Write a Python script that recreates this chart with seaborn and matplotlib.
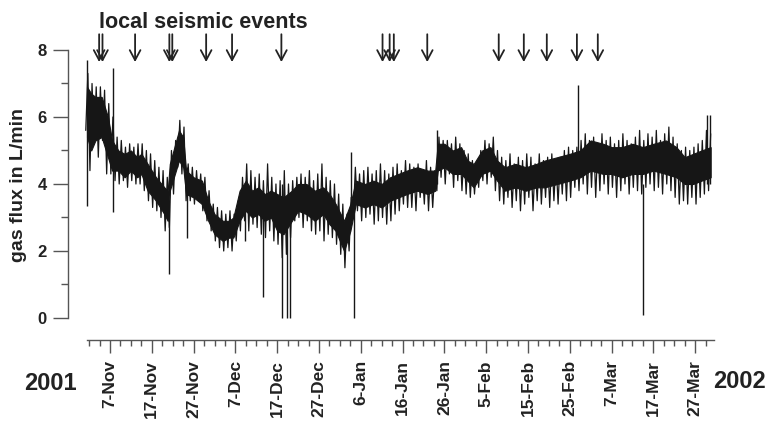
import pandas as pd
import numpy as np
import matplotlib
matplotlib.use("Agg")
import matplotlib.pyplot as plt
import matplotlib.dates as mdates
import seaborn as sns

start = pd.Timestamp("2001-11-01")

# daily extremes of the gas flux record (L/min), day 0 = 1 Nov 2001
flux_low = [5.6, 4.4, 5.2, 4.8, 5.3, 4.3, 4.3, 4.1, 4.0, 4.1,
            3.9, 4.1, 4.0, 4.0, 3.8, 3.5, 3.3, 3.2, 3.0, 2.6,
            2.7, 3.7, 4.5, 4.3, 3.5, 3.5, 3.4, 3.5, 3.2, 2.9,
            2.6, 2.3, 2.1, 2.0, 2.1, 2.0, 2.3, 2.6, 2.9, 2.6,
            2.8, 2.7, 2.5, 2.4, 2.6, 2.3, 2.2, 1.8, 1.9, 2.4,
            2.9, 3.0, 2.7, 2.9, 2.6, 2.5, 2.6, 2.3, 2.5, 2.4,
            2.2, 1.9, 1.5, 2.0, 3.0, 3.2, 2.9, 3.0, 3.1, 2.8,
            2.9, 3.0, 2.8, 2.9, 3.1, 3.2, 3.4, 3.3, 3.3, 3.2,
            3.6, 3.4, 3.2, 3.3, 3.8, 4.2, 4.0, 4.3, 3.9, 4.1,
            3.8, 3.7, 3.6, 3.7, 3.9, 4.1, 4.0, 4.2, 3.8, 3.5,
            3.4, 3.6, 3.3, 3.5, 3.2, 3.4, 3.6, 3.2, 3.5, 3.4,
            3.6, 3.3, 3.5, 3.4, 3.7, 3.5, 3.6, 3.9, 3.8, 4.0,
            3.7, 3.9, 3.6, 3.8, 4.0, 3.7, 3.9, 3.6, 3.8, 4.0,
            3.7, 3.9, 3.8, 3.7, 3.9, 4.0, 3.8, 3.9, 3.7, 4.0,
            3.8, 3.6, 3.4, 3.5, 3.4, 3.6, 3.4, 3.6, 3.7, 3.8]
flux_high = [7.3, 7.0, 6.9, 6.9, 6.8, 6.4, 6.0, 5.4, 5.3, 5.1,
             5.2, 5.1, 5.2, 5.2, 5.0, 4.9, 4.7, 4.5, 4.4, 4.2,
             5.0, 5.3, 5.9, 5.7, 4.6, 4.5, 4.4, 4.3, 4.2, 3.8,
             3.4, 3.3, 3.2, 3.1, 3.2, 3.1, 3.5, 4.2, 4.6, 4.4,
             4.2, 4.3, 4.1, 4.6, 4.2, 4.0, 4.1, 4.4, 4.0, 4.1,
             4.2, 4.3, 4.2, 4.4, 4.1, 4.3, 4.6, 4.2, 4.1, 4.0,
             3.7, 3.4, 3.1, 3.6, 4.5, 4.3, 4.4, 4.5, 4.3, 4.4,
             4.6, 4.4, 4.3, 4.5, 4.6, 4.4, 4.7, 4.6, 4.5, 4.6,
             4.4, 4.7, 4.5, 4.4, 5.4, 5.3, 5.3, 5.2, 5.4, 5.2,
             5.0, 4.9, 4.7, 4.6, 5.0, 5.3, 5.2, 5.4, 5.0, 4.8,
             4.7, 4.9, 4.6, 4.8, 4.7, 4.9, 4.8, 4.6, 4.9, 4.7,
             4.8, 4.9, 4.7, 4.8, 5.0, 5.1, 5.0, 5.1, 5.3, 5.5,
             5.3, 5.4, 5.2, 5.5, 5.3, 5.4, 5.2, 5.3, 5.5, 5.3,
             5.2, 5.4, 5.6, 5.3, 5.5, 5.4, 5.6, 5.3, 5.5, 5.7,
             5.4, 5.2, 5.0, 5.1, 5.0, 5.1, 5.2, 5.3, 5.6, 5.5]

# dense core of the record, read at break points (day, low, high)
core_days = [0.5, 1.5, 2.5, 4, 5.5, 6.5, 8, 9.5, 11, 12.5, 13.5, 15, 17, 19, 19.8, 20.3,
             22.5, 23.5, 24.2, 26, 28, 29.5, 31, 33, 34.5, 35.5, 37, 38.5, 40, 41.5, 43, 44.5,
             46, 47.5, 49.5, 51, 53, 55, 57, 58.5, 60, 62, 63.5, 64.8, 67, 69, 71, 73,
             75, 77, 79.5, 82, 83.8, 84.4, 86, 88, 90, 91.5, 93, 95, 97, 98.6,
             100.5, 103, 105.5, 108, 110, 113, 116, 118.5, 121, 124, 126, 128.5, 131, 133.5,
             136, 139, 141.5, 143.5, 145.5, 147.5, 149.7]
core_low = [5.4, 5.0, 5.3, 5.4, 4.8, 4.4, 4.4, 4.2, 4.4, 4.2, 4.3, 3.8, 3.5, 3.1, 2.9, 3.8,
            4.7, 4.5, 3.7, 3.6, 3.4, 2.9, 2.5, 2.3, 2.4, 2.4, 2.9, 3.2, 3.0, 3.1, 2.9, 3.0,
            2.6, 2.5, 2.9, 3.2, 3.1, 2.9, 3.1, 2.8, 2.6, 2.0, 2.6, 3.4, 3.3, 3.4, 3.3, 3.5,
            3.6, 3.7, 3.8, 3.7, 3.8, 4.4, 4.5, 4.3, 4.3, 4.1, 3.9, 4.3, 4.4, 4.1,
            3.8, 3.9, 3.8, 3.9, 3.9, 4.0, 4.1, 4.2, 4.4, 4.3, 4.3, 4.2, 4.3, 4.3,
            4.4, 4.3, 4.2, 4.0, 4.0, 4.1, 4.2]
core_high = [6.9, 6.7, 6.6, 6.6, 6.0, 5.3, 5.0, 4.9, 5.0, 4.8, 4.9, 4.6, 4.2, 3.9, 3.8, 4.6,
             5.6, 5.4, 4.4, 4.2, 4.1, 3.5, 3.1, 2.9, 2.9, 3.0, 3.8, 4.1, 3.8, 3.9, 3.7, 3.8,
             3.7, 3.6, 3.8, 4.0, 4.0, 3.8, 3.9, 3.7, 3.4, 2.9, 3.4, 4.1, 4.0, 4.1, 4.0, 4.2,
             4.3, 4.4, 4.5, 4.4, 4.4, 5.2, 5.2, 5.0, 5.1, 4.7, 4.6, 5.0, 5.1, 4.7,
             4.5, 4.6, 4.5, 4.6, 4.7, 4.8, 4.9, 5.0, 5.3, 5.2, 5.1, 5.1, 5.2, 5.1,
             5.2, 5.3, 5.1, 4.8, 4.9, 5.0, 5.1]

# isolated spikes (day, bottom, top)
spike_days = [0.45, 6.6, 20.0, 24.4, 38.3, 42.5, 47.1, 48.3, 49.1, 63.7, 64.4, 84.3, 118.0, 133.4, 148.9, 149.6]
spike_low = [3.35, 3.15, 1.3, 2.4, 2.3, 0.63, 0.0, 0.0, 0.0, 3.0, 0.0, 4.0, 4.5, 0.1, 4.0, 4.0]
spike_high = [7.7, 7.45, 3.5, 4.5, 3.5, 3.0, 4.0, 3.5, 3.5, 4.95, 3.5, 5.6, 6.95, 4.0, 6.05, 6.05]

# local seismic events (day since 1 Nov 2001)
event_days = [3.4, 4.2, 12.0, 20.2, 20.9, 29.0, 35.2, 47.0, 71.2, 72.9, 73.9,
              81.9, 99.0, 105.0, 110.5, 117.7, 122.7]

def day(d):
    return start + pd.Timedelta(days=d)

n = len(flux_low)
times, vals = [], []
for i in range(n):
    times += [day(i + 0.2), day(i + 0.7)]
    vals += [flux_low[i], flux_high[i]]
trace = pd.DataFrame({"time": times, "flux": vals})

sns.set_theme(style="ticks")
plt.rcParams["font.family"] = ["Liberation Sans", "DejaVu Sans"]
ink = "#161616"

fig = plt.figure(figsize=(7.69, 4.25), dpi=100)
ax = fig.add_axes([68 / 769, 85 / 425, (714 - 68) / 769, (340 - 10) / 425])

ax.fill_between([day(d) for d in core_days], core_low, core_high, color=ink, lw=0.8)
sns.lineplot(data=trace, x="time", y="flux", ax=ax, color=ink, lw=0.9, estimator=None)
ax.vlines([day(d) for d in spike_days], spike_low, spike_high, color=ink, lw=1.0)

for d in event_days:
    ax.annotate("", xy=(day(d), 7.64), xytext=(day(d), 8.47),
                arrowprops=dict(arrowstyle="->,head_length=0.6,head_width=0.32",
                                lw=1.3, color="#222222", shrinkA=0, shrinkB=0))

ax.set_ylim(-0.657, 9.194)
ax.set_xlim(day(-4.05), day(150.5))
ax.set_xlabel("")
ax.set_ylabel("")

sns.despine(ax=ax)
ax.spines["left"].set_bounds(0, 8)
ax.spines["bottom"].set_bounds(mdates.date2num(day(0.45)), mdates.date2num(day(150.5)))
for s in ["left", "bottom"]:
    ax.spines[s].set_color("#555555")
    ax.spines[s].set_linewidth(1.0)

ax.set_yticks([0, 2, 4, 6, 8])
ax.set_yticks([1, 3, 5, 7], minor=True)
ax.set_yticklabels(["0", "2", "4", "6", "8"], fontsize=12, fontweight="bold", color="#222222")

major = [day(6 + 10 * k) for k in range(15)]
minor = [day(1 + 2.5 * k) for k in range(60)]
ax.set_xticks(major)
ax.set_xticks(minor, minor=True)
ax.set_xticklabels([f"{d.day}-{d.strftime('%b')}" for d in major], rotation=90,
                   fontsize=12.5, fontweight="bold", color="#222222")

ax.tick_params(axis="x", which="major", length=9.5, width=1, pad=5, color="#555555")
ax.tick_params(axis="x", which="minor", length=4.3, width=1, color="#555555")
ax.tick_params(axis="y", which="major", length=10.8, width=1, pad=4.5, color="#555555")
ax.tick_params(axis="y", which="minor", length=5, width=1, color="#555555")

fig.text(203 / 769, 1 - 22 / 425, "local seismic events", fontsize=15.5, fontweight="bold",
         ha="center", va="center", color="#222222")
fig.text(19 / 769, 1 - 185 / 425, "gas flux in L/min", fontsize=14, fontweight="bold",
         rotation=90, ha="center", va="center", color="#222222")
fig.text(50 / 769, 1 - 384 / 425, "2001", fontsize=17, fontweight="bold",
         ha="center", va="center", color="#222222")
fig.text(740 / 769, 1 - 381 / 425, "2002", fontsize=17, fontweight="bold",
         ha="center", va="center", color="#222222")

fig.savefig("out.png", dpi=100, facecolor="white")
